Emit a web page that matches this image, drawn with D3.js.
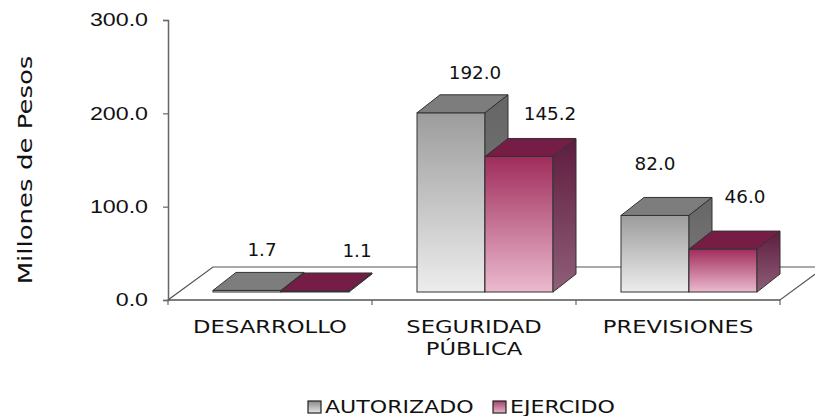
<!DOCTYPE html>
<html>
<head>
<meta charset="utf-8">
<script src="https://cdn.jsdelivr.net/npm/d3@7"></script>
<style>
  body { margin: 0; background: #fff; }
  svg { display: block; font-family: "DejaVu Sans", sans-serif; }
</style>
</head>
<body>
<div id="chart"></div>
<script>
(function () {
    var width = 815, height = 416;

    // data
    const categories = ["DESARROLLO", "SEGURIDAD|PÚBLICA", "PREVISIONES"];
    const series = ["AUTORIZADO", "EJERCIDO"];
    const autorizado = [1.7, 192.0, 82.0];
    const ejercido = [1.1, 145.2, 46.0];
    const yTicks = [0, 100, 200, 300];

    // label nudges (px) relative to bar front centre, per series/category
    const nudgeX = [[15, 24, 0], [42, 31, 22]];
    const nudgeY = [[23, 23, 34], [23, 25, 35]];

    const values = [autorizado, ejercido];

    // wide geometric look: stretch DejaVu horizontally
    const SX = 1.29;

    const svg = d3.select("#chart").append("svg")
        .attr("width", width)
        .attr("height", height);

    const defs = svg.append("defs");
    function grad(id, top, bottom) {
        const g = defs.append("linearGradient").attr("id", id)
            .attr("x1", 0).attr("y1", 0).attr("x2", 0).attr("y2", 1);
        g.append("stop").attr("offset", "0%").attr("stop-color", top);
        g.append("stop").attr("offset", "100%").attr("stop-color", bottom);
    }
    grad("gFront0", "#9c9c9c", "#ededed");
    grad("gFront1", "#a02d5c", "#ebbacf");
    grad("gSide0", "#666666", "#7c7c7c");
    grad("gSide1", "#5e1c3e", "#8f5f78");
    grad("gLeg0", "#8a8a8a", "#e6e6e6");
    grad("gLeg1", "#a5426c", "#e7b6cb");

    const fronts = ["url(#gFront0)", "url(#gFront1)"];
    const sides = ["url(#gSide0)", "url(#gSide1)"];
    const tops = ["#7d7d7d", "#761d46"];

    const x0 = 168, x1 = 780, yBase = 300, yTop = 20;
    const floorDx = 45, floorDy = 33;
    const barDx = 23, barDy = 18;
    const barShiftX = 11, barShiftY = 8;

    const x = d3.scaleBand().domain(categories).range([x0, x1]);
    const y = d3.scaleLinear().domain([0, 300]).range([yBase, yTop]);
    const barW = x.bandwidth() / 3;

    function wideText(parent, tx, ty, size, sx) {
        return parent.append("text")
            .attr("transform", "translate(" + tx + "," + ty + ") scale(" + sx + ",1)")
            .attr("font-size", size)
            .attr("fill", "#111");
    }

    // floor
    svg.append("path")
        .attr("d", "M" + x0 + "," + yBase + "L" + x1 + "," + yBase +
            "L" + (x1 + floorDx) + "," + (yBase - floorDy) +
            "L" + (x0 + floorDx) + "," + (yBase - floorDy) + "Z")
        .attr("fill", "#fff")
        .attr("stroke", "#555")
        .attr("stroke-width", 1.2);

    // y axis
    const yAxis = svg.append("g")
        .attr("transform", "translate(" + x0 + ",0)")
        .call(d3.axisLeft(y).tickValues(yTicks).tickSize(5).tickPadding(15)
            .tickFormat(d3.format(".1f")));
    yAxis.select(".domain").attr("stroke", "#666").attr("stroke-width", 1.5);
    yAxis.selectAll(".tick line").attr("stroke", "#666").attr("stroke-width", 1.2);
    yAxis.selectAll(".tick text")
        .attr("font-size", 18)
        .attr("fill", "#111")
        .attr("x", -20 / SX)
        .attr("transform", "scale(" + SX + ",1)");

    // x axis ticks
    const xAxis = svg.append("g")
        .attr("transform", "translate(0," + yBase + ")")
        .call(d3.axisBottom(x).tickSize(0).tickFormat(""));
    xAxis.select(".domain").remove();
    xAxis.selectAll(".sep")
        .data(categories.concat([null]))
        .enter().append("line")
        .attr("x1", (d, i) => x0 + i * x.step())
        .attr("x2", (d, i) => x0 + i * x.step())
        .attr("y1", 0).attr("y2", 5)
        .attr("stroke", "#666").attr("stroke-width", 1.2);
    svg.append("line")
        .attr("x1", x0).attr("x2", x1).attr("y1", yBase).attr("y2", yBase)
        .attr("stroke", "#555").attr("stroke-width", 1.2);

    // category labels
    const catLabels = svg.append("g");
    categories.forEach(function (c) {
        const t = wideText(catLabels, x(c) + x.bandwidth() / 2, 333, 18, 1.26)
            .attr("text-anchor", "middle");
        c.split("|").forEach(function (line, i) {
            t.append("tspan")
                .attr("x", 0)
                .attr("dy", i === 0 ? 0 : 22)
                .text(line);
        });
    });

    // bars
    const bars = svg.append("g");
    const labels = svg.append("g");
    categories.forEach(function (c, ci) {
        series.forEach(function (s, si) {
            const v = values[si][ci];
            const fx = x(c) + barW / 2 + barShiftX + si * barW;
            const fb = yBase - barShiftY;
            const ft = y(v) - barShiftY;
            const g = bars.append("g");
            g.append("rect")
                .attr("x", fx).attr("y", ft)
                .attr("width", barW).attr("height", Math.max(fb - ft, 0.5))
                .attr("fill", fronts[si])
                .attr("stroke", "#333").attr("stroke-width", 1);
            g.append("path")
                .attr("d", "M" + fx + "," + ft + "L" + (fx + barDx) + "," + (ft - barDy) +
                    "L" + (fx + barW + barDx) + "," + (ft - barDy) + "L" + (fx + barW) + "," + ft + "Z")
                .attr("fill", tops[si])
                .attr("stroke", "#333").attr("stroke-width", 1);
            g.append("path")
                .attr("d", "M" + (fx + barW) + "," + ft + "L" + (fx + barW + barDx) + "," + (ft - barDy) +
                    "L" + (fx + barW + barDx) + "," + (fb - barDy) + "L" + (fx + barW) + "," + fb + "Z")
                .attr("fill", sides[si])
                .attr("stroke", "#333").attr("stroke-width", 1);

            wideText(labels, fx + barW / 2 + nudgeX[si][ci], ft - barDy - nudgeY[si][ci] + 7, 18, 1.02)
                .attr("text-anchor", "middle")
                .text(d3.format(".1f")(v));
        });
    });

    // y axis title
    svg.append("text")
        .attr("transform", "translate(32,170) rotate(-90) scale(1.3,1)")
        .attr("text-anchor", "middle")
        .attr("font-size", 20)
        .attr("fill", "#111")
        .text("Millones de Pesos");

    // legend
    const legendX = [308, 493];
    const legend = svg.append("g");
    series.forEach(function (s, i) {
        legend.append("rect")
            .attr("x", legendX[i]).attr("y", 401)
            .attr("width", 13).attr("height", 12)
            .attr("fill", "url(#gLeg" + i + ")")
            .attr("stroke", "#222").attr("stroke-width", 1.2);
        wideText(legend, legendX[i] + 17, 413, 17, 1.3)
            .text(s);
    });
})();
</script>
</body>
</html>
